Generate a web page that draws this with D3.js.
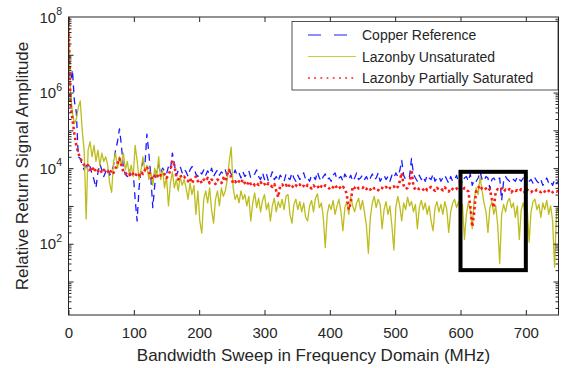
<!DOCTYPE html>
<html>
<head>
<meta charset="utf-8">
<script src="https://cdn.jsdelivr.net/npm/d3@7/dist/d3.min.js"></script>
<style>
  body { margin: 0; background: #fff; }
  svg { display: block; }
  text { font-family: "Liberation Sans", Arial, Helvetica, sans-serif; fill: #262626; }
</style>
</head>
<body>
<svg id="chart" width="562" height="368"></svg>
<script>
// Frequency sweep grid (MHz), one sample every 3 MHz from 0 to 750
const sweepMHz = d3.range(0, 751, 3);

// Return signal amplitude per sweep sample
const copperReference = [
  4e6, 1.5e6, 4e6, 6e5, 3e5, 20000, 18000, 12000, 9000, 14000,
  8000, 11000, 7000, 5000, 3000, 7500, 13000, 9000, 6000, 8000,
  10000, 6500, 8000, 12000, 30000, 50000, 110000, 40000, 10000, 7000,
  6000, 9000, 5500, 8000, 1500, 400, 3000, 9000, 15000, 12000,
  80000, 25000, 6000, 900, 3500, 9000, 12000, 7000, 10000, 8500,
  7000, 11000, 9000, 25000, 13000, 6500, 8500, 11000, 7500, 9500,
  8000, 6000, 9000, 11000, 10000, 7000, 6000, 8000, 7000, 9000,
  6500, 8500, 7000, 10000, 6000, 7500, 9000, 6500, 8000, 7000,
  9000, 6000, 8500, 7000, 6000, 9000, 6500, 7500, 5500, 8000,
  6000, 7000, 8500, 5500, 6500, 7000, 9000, 6000, 5000, 7500,
  5000, 7000, 4500, 5500, 8000, 5000, 6000, 4500, 6500, 5500,
  4500, 7000, 5500, 5000, 7500, 5500, 4500, 6500, 5000, 6000,
  7500, 5000, 5500, 4500, 6500, 6000, 5000, 8000, 5500, 4500,
  6000, 7000, 5000, 5500, 4500, 6500, 7500, 5000, 5500, 6000,
  4500, 7000, 5500, 5000, 6500, 4500, 5500, 7500, 5000, 5500,
  6500, 5000, 6000, 4500, 5500, 7000, 5000, 5500, 7500, 4500,
  5500, 6500, 5000, 6000, 4500, 6500, 5500, 7500, 6000, 8500,
  16000, 6500, 5000, 5500, 6000, 18000, 7000, 5500, 4500, 6500,
  5000, 6000, 4500, 6500, 5500, 5000, 7000, 4500, 5500, 6000,
  4500, 5500, 6500, 5000, 4000, 6000, 4500, 5000, 6500, 4000,
  5000, 4000, 5500, 6000, 4500, 7000, 3500, 5000, 4500, 5500,
  8000, 5000, 4500, 6000, 5500, 2800, 5000, 5500, 4500, 5000,
  5500, 1400, 4500, 6000, 5000, 4500, 5500, 5000, 4500, 6000,
  5000, 4500, 5500, 4000, 6000, 4500, 5000, 4000, 5500, 4500,
  4000, 5000, 3500, 4500, 5500, 4000, 4500, 3500, 5000, 4000,
  4500
];

const lazonbyUnsaturated = [
  1e8, 1e6, 3e5, 1.5e5, 2e5, 4e5, 6e5, 1e5, 30000, 450,
  30000, 50000, 20000, 40000, 15000, 30000, 12000, 25000, 15000, 20000,
  12000, 4000, 2300, 15000, 25000, 10000, 20000, 12000, 25000, 9000,
  15000, 7000, 12000, 6000, 40000, 16000, 5000, 9000, 20000, 8000,
  12000, 5000, 8000, 3500, 10000, 6000, 20000, 5000, 9000, 3000,
  6000, 1000, 4000, 8000, 3000, 5000, 2500, 6000, 3500, 5000,
  3000, 1500, 4000, 2000, 3500, 600, 2500, 400, 190, 1500,
  2500, 1200, 3000, 800, 350, 1500, 2500, 1000, 3000, 1800,
  2500, 5000, 15000, 36000, 3000, 1500, 2000, 1200, 2500, 1500,
  2000, 1000, 1800, 400, 1200, 2200, 900, 1600, 700, 1400,
  2000, 800, 1200, 400, 1000, 1600, 700, 1300, 900, 1500,
  800, 1800, 2000, 600, 350, 1100, 1500, 800, 1300, 700,
  1200, 500, 400, 1000, 1400, 700, 1600, 2100, 900, 1200,
  500, 80, 600, 1100, 800, 1400, 600, 1000, 1500, 700,
  220, 900, 1300, 600, 1800, 1000, 700, 1200, 1600, 800,
  1400, 700, 300, 56, 500, 1200, 1800, 900, 1500, 1100,
  250, 800, 1300, 600, 1000, 300, 68, 900, 1800, 1000,
  400, 1200, 800, 1700, 1000, 1300, 700, 1100, 250, 900,
  1400, 800, 1200, 600, 1000, 400, 220, 900, 1300, 700,
  1100, 600, 1300, 800, 200, 700, 1200, 1500, 900, 1300,
  700, 1100, 130, 600, 1200, 800, 250, 1500, 3000, 2000,
  6000, 2500, 1200, 700, 200, 900, 1300, 600, 1000, 300,
  30, 600, 1100, 700, 1300, 1600, 900, 1200, 500, 1000,
  130, 800, 1200, 600, 1000, 110, 700, 1300, 1500, 800,
  1100, 500, 1200, 800, 1400, 600, 1000, 400, 24, 700,
  900
];

const lazonbyPartiallySaturated = [
  1e8, 5e5, 2e5, 80000, 40000, 25000, 18000, 15000, 12000, 11000,
  12000, 9000, 11000, 8000, 10000, 8500, 9500, 7500, 9000, 8000,
  8500, 7000, 9000, 7500, 10000, 13000, 18000, 12000, 8000, 7000,
  7500, 6500, 8000, 7000, 6000, 7500, 6500, 8000, 7000, 9000,
  11000, 8000, 6000, 5000, 6500, 7000, 5500, 6500, 6000, 7000,
  5500, 6500, 9000, 16000, 12000, 6000, 5000, 6500, 5500, 6000,
  5000, 4500, 5500, 4000, 5000, 6000, 4500, 5000, 4000, 5000,
  4500, 5500, 4000, 5000, 4500, 3800, 5000, 4500, 4000, 5500,
  4500, 7000, 9000, 5500, 4000, 4500, 3800, 4500, 4000, 5000,
  4000, 3500, 4500, 3800, 4200, 3500, 4000, 3600, 4300, 3500,
  3800, 3300, 4000, 3500, 3200, 3800, 2500, 1700, 3400, 3700,
  3200, 3600, 3000, 3800, 3400, 3000, 3500, 3200, 3700, 3100,
  3400, 3000, 3600, 3200, 2900, 3500, 3100, 3400, 2800, 3300,
  3000, 3500, 3200, 2900, 3400, 3100, 3600, 3000, 3300, 2800,
  3200, 2900, 2000, 800, 1200, 3300, 3000, 3400, 2900, 3100,
  3000, 3300, 2800, 3100, 2700, 3200, 2900, 3000, 2600, 3100,
  3000, 2800, 3200, 2700, 3000, 2900, 3300, 2800, 3200, 4500,
  7500, 3500, 2800, 3000, 4000, 9000, 3300, 2700, 3000, 2800,
  3000, 2700, 3100, 2600, 2900, 3200, 2800, 2500, 3000, 2700,
  2900, 2600, 3100, 2700, 2400, 3000, 2800, 2600, 2900, 2500,
  2800, 2500, 3000, 2700, 2400, 1000, 280, 700, 2600, 3000,
  3500, 2800, 2600, 2900, 2500, 2800, 1500, 900, 2400, 2800,
  2600, 2900, 2400, 2700, 2500, 2800, 2300, 2700, 2500, 2600,
  2400, 2800, 2600, 2200, 2700, 2500, 2300, 2600, 2400, 2700,
  2500, 2300, 2600, 2400, 2200, 2500, 2700, 2300, 2500, 2400,
  2500
];

const seriesNames = ["Copper Reference", "Lazonby Unsaturated", "Lazonby Partially Saturated"];
const xTickValues = [0, 100, 200, 300, 400, 500, 600, 700];
const yLabelExponents = [2, 4, 6, 8];
const highlightMHz = [600, 700];
const highlightAmplitude = [20, 8000];

// ---- layout ----
const svg = d3.select("#chart");
const plot = { left: 68.5, right: 558.5, top: 17, bottom: 315 };
const axisColor = "#262626";

const x = d3.scaleLinear().domain([0, 750]).range([plot.left, plot.right]);
const y = d3.scaleLog().domain([1.3, 1e8]).range([plot.bottom, plot.top]);

const styles = [
  { color: "#1a1aff", width: 1.3, dash: "7,5" },
  { color: "#bdbd1e", width: 1.3, dash: null },
  { color: "#ff1a1a", width: 2.6, dash: "2.5,3" }
];
const seriesValues = [copperReference, lazonbyUnsaturated, lazonbyPartiallySaturated];

svg.append("defs").append("clipPath").attr("id", "plotClip")
  .append("rect")
  .attr("x", plot.left).attr("y", plot.top)
  .attr("width", plot.right - plot.left).attr("height", plot.bottom - plot.top);

// ---- data lines ----
const line = d3.line()
  .x((d, i) => x(sweepMHz[i]))
  .y(d => y(d));

const lines = svg.append("g").attr("clip-path", "url(#plotClip)");
seriesValues.forEach((vals, k) => {
  lines.append("path")
    .datum(vals)
    .attr("d", line)
    .attr("fill", "none")
    .attr("stroke", styles[k].color)
    .attr("stroke-width", styles[k].width)
    .attr("stroke-dasharray", styles[k].dash)
    .attr("stroke-linejoin", "round");
});

// ---- axes ----
function styleAxis(g) {
  g.select(".domain").remove();
  g.selectAll(".tick line").attr("stroke", axisColor).attr("stroke-width", 1);
  g.selectAll(".tick text").attr("fill", axisColor).style("font-size", "15px");
}

svg.append("g")
  .attr("transform", `translate(0,${plot.bottom})`)
  .call(d3.axisBottom(x).tickValues(xTickValues).tickSizeInner(-5).tickSizeOuter(0).tickPadding(12).tickFormat(d3.format("d")))
  .call(styleAxis)
  .call(g => g.selectAll(".tick text").attr("font-family", null));

svg.append("g")
  .attr("transform", `translate(0,${plot.top})`)
  .call(d3.axisTop(x).tickValues(xTickValues).tickSizeInner(-5).tickSizeOuter(0).tickFormat(""))
  .call(styleAxis);

const decades = d3.range(1, 8).map(e => Math.pow(10, e));
const minors = [];
for (let e = 0; e < 8; e++) {
  for (let m = 2; m <= 9; m++) {
    const v = m * Math.pow(10, e);
    if (v >= y.domain()[0] && v <= y.domain()[1]) minors.push(v);
  }
}

[[d3.axisLeft, plot.left], [d3.axisRight, plot.right]].forEach(([axisFn, pos]) => {
  svg.append("g")
    .attr("transform", `translate(${pos},0)`)
    .call(axisFn(y).tickValues(decades).tickSizeInner(-5).tickSizeOuter(0).tickFormat(""))
    .call(styleAxis);
  svg.append("g")
    .attr("transform", `translate(${pos},0)`)
    .call(axisFn(y).tickValues(minors).tickSizeInner(-3).tickSizeOuter(0).tickFormat(""))
    .call(styleAxis);
});

// power-of-ten labels
const yLabels = svg.append("g");
yLabelExponents.forEach(e => {
  const t = yLabels.append("text")
    .attr("x", 62)
    .attr("y", y(Math.pow(10, e)) + 5.5)
    .attr("text-anchor", "end")
    .style("font-size", "15px");
  t.append("tspan").text("10");
  t.append("tspan").attr("dy", -7.5).style("font-size", "10.5px").text(e);
});

// plot frame
svg.append("rect")
  .attr("x", plot.left).attr("y", plot.top)
  .attr("width", plot.right - plot.left).attr("height", plot.bottom - plot.top)
  .attr("fill", "none").attr("stroke", axisColor).attr("stroke-width", 1);

// axis titles
svg.append("text")
  .attr("x", (plot.left + plot.right) / 2)
  .attr("y", 361)
  .attr("text-anchor", "middle")
  .style("font-size", "17px")
  .text("Bandwidth Sweep in Frequency Domain (MHz)");

svg.append("text")
  .attr("transform", `translate(28,${(plot.top + plot.bottom) / 2}) rotate(-90)`)
  .attr("text-anchor", "middle")
  .style("font-size", "17px")
  .text("Relative Return Signal Amplitude");

// highlighted band
svg.append("rect")
  .attr("x", x(highlightMHz[0]))
  .attr("y", y(highlightAmplitude[1]))
  .attr("width", x(highlightMHz[1]) - x(highlightMHz[0]))
  .attr("height", y(highlightAmplitude[0]) - y(highlightAmplitude[1]))
  .attr("fill", "none")
  .attr("stroke", "#000")
  .attr("stroke-width", 4);

// ---- legend ----
const legend = svg.append("g");
legend.append("rect")
  .attr("x", 292).attr("y", 21.5)
  .attr("width", 266).attr("height", 68.5)
  .attr("fill", "#fff").attr("stroke", axisColor).attr("stroke-width", 0.8);

const legendStyles = [
  { dash: "13,13", width: 1 },
  { dash: null, width: 1 },
  { dash: "1.8,4.4", width: 1.6 }
];
seriesNames.forEach((name, k) => {
  const cy = 35 + k * 21.5;
  legend.append("line")
    .attr("x1", 308).attr("x2", 356)
    .attr("y1", cy).attr("y2", cy)
    .attr("stroke", k === 1 ? "#c4cf3a" : styles[k].color)
    .attr("stroke-width", legendStyles[k].width)
    .attr("stroke-dasharray", legendStyles[k].dash);
  legend.append("text")
    .attr("x", 362).attr("y", cy + 5.3)
    .style("font-size", "14px")
    .text(name);
});
</script>
</body>
</html>
